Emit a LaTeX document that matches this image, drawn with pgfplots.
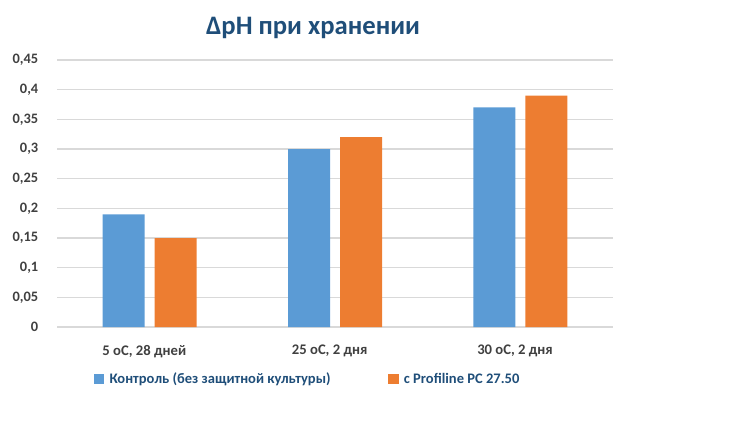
\documentclass[border=0pt]{standalone}
\usepackage{pgfplots}
\pgfplotsset{compat=1.18}
\usepackage{fontspec}
\setmainfont{Carlito}
\definecolor{barblue}{HTML}{5B9BD5}
\definecolor{barorange}{HTML}{ED7D31}
\definecolor{titleblue}{HTML}{1F4E79}
\definecolor{ticktext}{HTML}{404040}
\definecolor{gridgray}{HTML}{D9D9D9}
\begin{document}
\begin{tikzpicture}
\path[use as bounding box] (0,0) rectangle (566.25pt,330pt);
\node[font=\fontsize{20}{24}\selectfont\bfseries, text=titleblue] at (234.75pt,309pt) {ΔpH при хранении};
\begin{axis}[
  at={(42.75pt,84.75pt)}, anchor=south west,
  scale only axis, width=417pt, height=200.25pt,
  ymin=0, ymax=0.45,
  xmin=-0.5, xmax=2.5,
  ytick={0,0.05,...,0.45},
  xtick=data,
  xticklabels={{5 oC, 28 дней},{25 oC, 2 дня},{30 oC, 2 дня}},
  ymajorgrids, grid style={gridgray, line width=0.8pt},
  axis line style={draw=none},
  major tick length=0pt,
  scaled y ticks=false,
  /pgf/number format/.cd, fixed, use comma, precision=2, assume math mode=true,
  /pgfplots/.cd,
  yticklabel style={font=\fontsize{10.8}{12}\selectfont\bfseries, text=ticktext, xshift=-10.5pt},
  xticklabel style={font=\fontsize{11}{13}\selectfont\bfseries, text=ticktext, yshift=-10pt, xshift=-4pt},
  ybar, bar width=31.5pt,
  legend columns=2,
  legend style={at={(0.058,-0.195)}, anchor=west, draw=none, fill=none,
    font=\fontsize{10.9}{13}\selectfont\bfseries, text=titleblue,
    /tikz/every even column/.append style={column sep=41pt}},
  legend image code/.code={\fill[#1] (0pt,-4pt) rectangle (8pt,4pt);},
  /tikz/every odd column/.append style={column sep=2pt},
]
\addplot+[draw=none, fill=barblue, bar shift=-19.5pt] coordinates {(0,0.19) (1,0.30) (2,0.37)};
\addplot+[draw=none, fill=barorange, bar shift=19.5pt] coordinates {(0,0.15) (1,0.32) (2,0.39)};
\legend{Контроль (без защитной культуры), с Profiline PC 27.50}
\end{axis}
\end{tikzpicture}
\end{document}
